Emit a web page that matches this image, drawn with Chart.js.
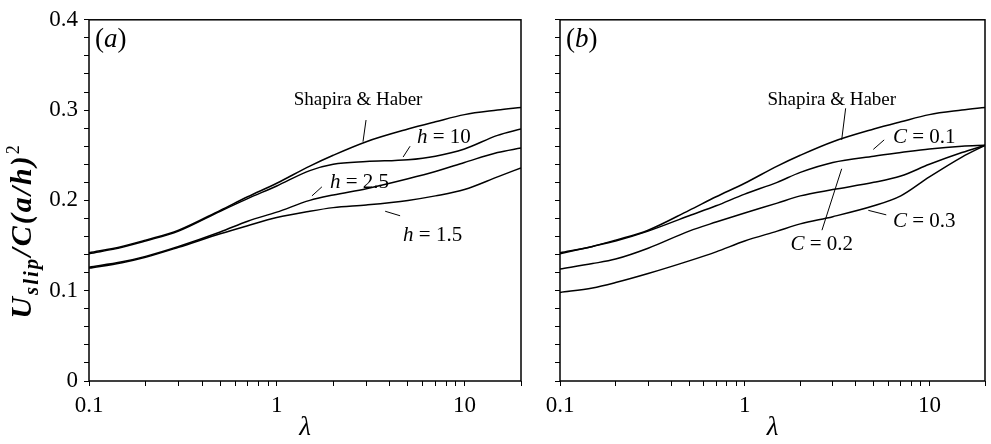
<!DOCTYPE html>
<html>
<head>
<meta charset="utf-8">
<style>
  body { margin: 0; background: #fff; }
  #wrap { position: relative; width: 991px; height: 444px; background: #fff; }
  #pa { position: absolute; left: 0; top: 0; }
  #pb { position: absolute; left: 530px; top: 0; }
</style>
<script src="https://cdn.jsdelivr.net/npm/chart.js@4.4.1/dist/chart.umd.min.js"></script>
</head>
<body>
<div id="wrap">
  <canvas id="pa" width="530" height="444"></canvas>
  <canvas id="pb" width="461" height="444"></canvas>
</div>
<script>
const lambdas = [0.1, 0.15, 0.2, 0.3, 0.5, 0.7, 1, 1.5, 2, 3, 5, 7, 10, 15, 20];

// Shapira & Haber (same curve in both panels)
const shapiraHaber = [0.142, 0.149, 0.156, 0.167, 0.189, 0.204, 0.219, 0.238, 0.250, 0.265, 0.279, 0.287, 0.295, 0.300, 0.303];

// panel (a): different h
const h10  = [0.141, 0.148, 0.155, 0.166, 0.188, 0.202, 0.216, 0.233, 0.240, 0.243, 0.245, 0.249, 0.257, 0.272, 0.279];
const h2_5 = [0.126, 0.132, 0.138, 0.149, 0.165, 0.177, 0.187, 0.200, 0.206, 0.213, 0.224, 0.232, 0.242, 0.253, 0.258];
const h1_5 = [0.125, 0.131, 0.137, 0.148, 0.163, 0.172, 0.181, 0.188, 0.192, 0.195, 0.200, 0.205, 0.212, 0.226, 0.236];

// panel (b): different C
const c01 = [0.141, 0.149, 0.155, 0.166, 0.183, 0.194, 0.207, 0.220, 0.231, 0.242, 0.249, 0.253, 0.257, 0.260, 0.261];
const c02 = [0.124, 0.130, 0.135, 0.147, 0.166, 0.176, 0.186, 0.197, 0.205, 0.212, 0.220, 0.227, 0.240, 0.253, 0.261];
const c03 = [0.098, 0.103, 0.109, 0.119, 0.133, 0.143, 0.155, 0.166, 0.174, 0.182, 0.194, 0.205, 0.226, 0.248, 0.261];

// axis ticks
const xTickValues = [0.1, 0.2, 0.3, 0.4, 0.5, 0.6, 0.7, 0.8, 0.9, 1, 2, 3, 4, 5, 6, 7, 8, 9, 10, 20];
const xTickLabels = { 0.1: '0.1', 1: '1', 10: '10' };
const yTickValues = [0, 0.02, 0.04, 0.06, 0.08, 0.1, 0.12, 0.14, 0.16, 0.18, 0.2, 0.22, 0.24, 0.26, 0.28, 0.3, 0.32, 0.34, 0.36, 0.38, 0.4];
const yTickLabels = { 0: '0', 0.1: '0.1', 0.2: '0.2', 0.3: '0.3', 0.4: '0.4' };

const FONT = '"Liberation Serif", "Times New Roman", serif';

// labels with leader lines, in data coordinates
const notesA = [
  { x: 2.71, y: 0.311, align: 'center', parts: [{ t: 'Shapira & Haber' }], line: [2.99, 0.289, 2.88, 0.265] },
  { x: 5.58, y: 0.2696, align: 'left', parts: [{ t: 'h', it: true }, { t: ' = 10' }], line: [5.13, 0.260, 4.71, 0.248] },
  { x: 1.92, y: 0.220, align: 'left', parts: [{ t: 'h', it: true }, { t: ' = 2.5' }], line: [1.74, 0.215, 1.54, 0.205] },
  { x: 4.71, y: 0.161, align: 'left', parts: [{ t: 'h', it: true }, { t: ' = 1.5' }], line: [3.78, 0.188, 4.54, 0.183] }
];
const notesB = [
  { x: 2.96, y: 0.311, align: 'center', parts: [{ t: 'Shapira & Haber' }], line: [3.52, 0.302, 3.35, 0.267] },
  { x: 6.35, y: 0.2696, align: 'left', parts: [{ t: 'C', it: true }, { t: ' = 0.1' }], line: [5.69, 0.267, 4.97, 0.2565] },
  { x: 1.77, y: 0.151, align: 'left', parts: [{ t: 'C', it: true }, { t: ' = 0.2' }], line: [3.35, 0.235, 2.62, 0.167] },
  { x: 6.35, y: 0.177, align: 'left', parts: [{ t: 'C', it: true }, { t: ' = 0.3' }], line: [4.67, 0.189, 5.84, 0.184] }
];

function series(vals) {
  return {
    data: lambdas.map((x, i) => ({ x: x, y: vals[i] })),
    borderColor: '#000',
    borderWidth: 1.5,
    pointRadius: 0,
    cubicInterpolationMode: 'monotone',
    fill: false
  };
}

function drawParts(ctx, parts, x, y, align, size) {
  const fonts = parts.map(p => (p.it ? 'italic ' : '') + (p.bold ? 'bold ' : '') + (p.size || size) + 'px ' + FONT);
  let total = 0;
  const widths = parts.map((p, i) => { ctx.font = fonts[i]; const w = ctx.measureText(p.t).width; total += w; return w; });
  let cx = align === 'center' ? x - total / 2 : x;
  ctx.textAlign = 'left';
  parts.forEach((p, i) => {
    ctx.font = fonts[i];
    ctx.fillText(p.t, cx, y + (p.dy || 0));
    cx += widths[i];
  });
}

// frame, labels, panel tag and axis titles
const panelText = {
  id: 'panelText',
  afterDatasetsDraw(chart, args, opts) {
    const ctx = chart.ctx;
    const a = chart.chartArea;
    const xs = chart.scales.x, ys = chart.scales.y;
    ctx.save();
    ctx.strokeStyle = '#000';
    ctx.lineWidth = 1.5;
    ctx.strokeRect(a.left, a.top, a.right - a.left, a.bottom - a.top);

    ctx.fillStyle = '#000';
    ctx.textBaseline = 'middle';
    drawParts(ctx, [{ t: '(' }, { t: opts.tag, it: true }, { t: ')' }], a.left + 6, a.top + 20, 'left', 27);

    opts.notes.forEach(n => {
      ctx.lineWidth = 1;
      ctx.beginPath();
      ctx.moveTo(xs.getPixelForValue(n.line[0]), ys.getPixelForValue(n.line[1]));
      ctx.lineTo(xs.getPixelForValue(n.line[2]), ys.getPixelForValue(n.line[3]));
      ctx.stroke();
      const fs = n.align === 'center' ? 19 : 21;
      drawParts(ctx, n.parts, xs.getPixelForValue(n.x), ys.getPixelForValue(n.y), n.align, fs);
    });

    // x title
    drawParts(ctx, [{ t: 'λ', it: true }], (a.left + a.right) / 2, 428, 'center', 27);

    // y title
    if (opts.yTitle) {
      ctx.translate(31, 231);
      ctx.rotate(-Math.PI / 2);
      ctx.textBaseline = 'alphabetic';
      ctx.letterSpacing = '2px';
      drawParts(ctx, [
        { t: 'U', it: true, bold: true },
        { t: 'slip', it: true, bold: true, size: 21, dy: 7 },
        { t: '/C(a/h)', it: true, bold: true },
        { t: '2', size: 18, dy: -12 }
      ], 0, 0, 'center', 30);
    }
    ctx.restore();
  }
};

function makeChart(id, datasets, yWidth, rightPad, showYLabels, tag, notes) {
  return new Chart(document.getElementById(id), {
    type: 'line',
    data: { datasets: datasets },
    plugins: [panelText],
    options: {
      responsive: false,
      animation: false,
      layout: { padding: { top: 13, right: rightPad, left: 0, bottom: 0 } },
      plugins: {
        legend: { display: false },
        tooltip: { enabled: false },
        panelText: { tag: tag, notes: notes, yTitle: showYLabels }
      },
      scales: {
        x: {
          type: 'logarithmic',
          min: 0.1,
          max: 20,
          afterBuildTicks: s => { s.ticks = xTickValues.map(v => ({ value: v })); },
          afterFit: s => { s.height = 63; },
          grid: { drawOnChartArea: false, drawTicks: true, tickLength: 5, color: '#000', lineWidth: 1 },
          border: { display: false },
          ticks: {
            autoSkip: false,
            maxRotation: 0,
            padding: 6,
            color: '#000',
            font: { family: FONT, size: 23 },
            callback: v => xTickLabels[v] || ''
          }
        },
        y: {
          min: 0,
          max: 0.4,
          afterBuildTicks: s => { s.ticks = yTickValues.map(v => ({ value: v })); },
          afterFit: s => { s.width = yWidth; },
          grid: { drawOnChartArea: false, drawTicks: true, tickLength: 5, color: '#000', lineWidth: 1 },
          border: { display: false },
          ticks: {
            autoSkip: false,
            padding: 6,
            color: '#000',
            font: { family: FONT, size: 23 },
            callback: v => showYLabels ? (yTickLabels[v] || '') : ''
          }
        }
      }
    }
  });
}

makeChart('pa', [series(shapiraHaber), series(h10), series(h2_5), series(h1_5)], 89, 9, true, 'a', notesA);
makeChart('pb', [series(shapiraHaber), series(c01), series(c02), series(c03)], 30, 1, false, 'b', notesB);
</script>
</body>
</html>
